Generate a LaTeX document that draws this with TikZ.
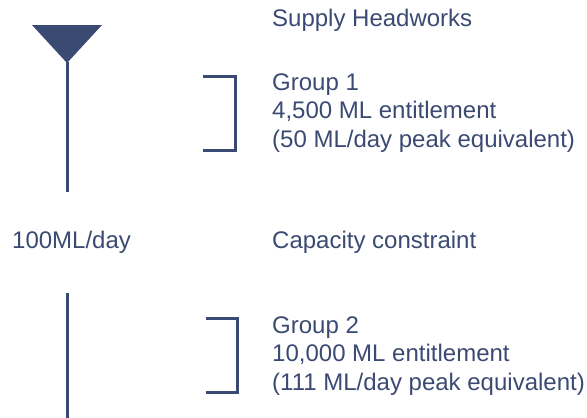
\documentclass[tikz,border=0pt]{standalone}
\usepackage{fontspec}
\setmainfont{Liberation Sans}
\definecolor{ink}{RGB}{59,74,114}
\begin{document}
\begin{tikzpicture}[x=1pt,y=-1pt,
  label text/.style={anchor=base west,inner sep=0pt,text=ink,
    font=\fontsize{24}{28.5}\selectfont},
  stem/.style={draw=ink,line width=3pt},
  bracket/.style={draw=ink,line width=3pt,line join=miter}]
  \useasboundingbox (0,0) rectangle (587,418);

  % headworks symbol and supply line above the constraint
  \fill[ink] (32,25) -- (102,25) -- (67,63) -- cycle;
  \coordinate (apex) at (67,62);
  \coordinate (upperend) at (67,192);
  \draw[stem] (apex) -- (upperend);

  % supply line below the constraint
  \coordinate (lowerstart) at (67,293);
  \coordinate (lowerend) at (67,418);
  \draw[stem] (lowerstart) -- (lowerend);

  % group brackets
  \draw[bracket] (203,76.5) -- (235,76.5) -- (235,150.5) -- (203,150.5);
  \draw[bracket] (206,318.5) -- (237.5,318.5) -- (237.5,392) -- (206,392);

  % labels
  \node[label text] (head) at (272,26) {Supply Headworks};
  \node[label text] (g1a) at (272,90) {Group 1};
  \node[label text] (g1b) at (272,118.5) {4,500 ML entitlement};
  \node[label text] (g1c) at (272,147) {(50 ML/day peak equivalent)};
  \node[label text] (rate) at (12,248) {100ML/day};
  \node[label text] (cap) at (272,248) {Capacity constraint};
  \node[label text] (g2a) at (272,333) {Group 2};
  \node[label text] (g2b) at (272,361.5) {10,000 ML entitlement};
  \node[label text] (g2c) at (272,390) {(111 ML/day peak equivalent)};
\end{tikzpicture}
\end{document}
